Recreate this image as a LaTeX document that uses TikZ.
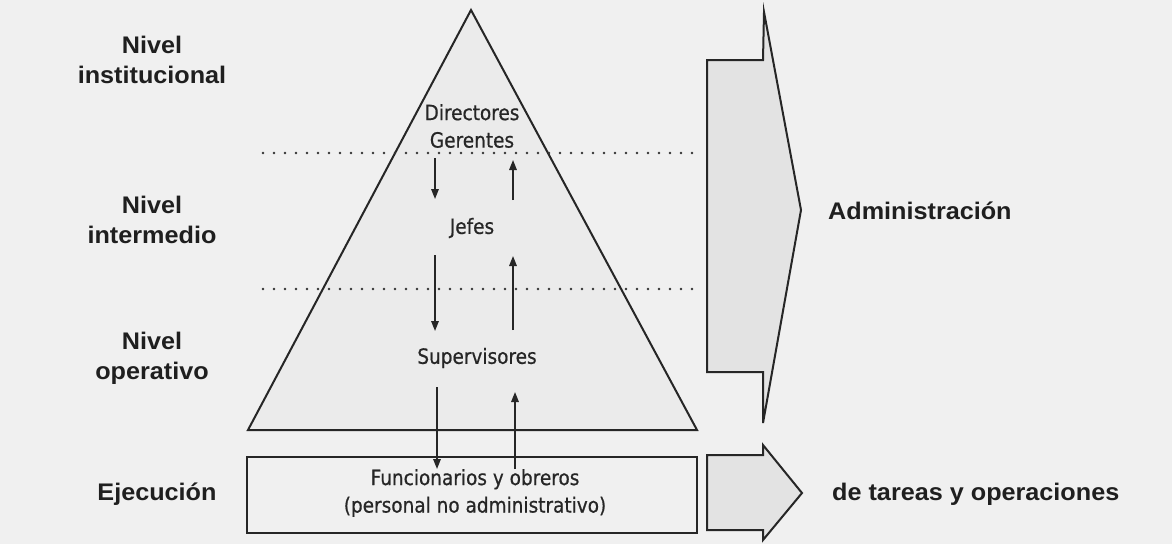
\documentclass[tikz,border=0pt]{standalone}
\usepackage{fontspec}
\setmainfont{Liberation Sans}
\newfontfamily\labelfont[FakeStretch=1.05]{Liberation Sans}
\newfontfamily\innerfont[FakeStretch=0.88,FakeBold=0.6]{DejaVu Sans}
\usetikzlibrary{arrows.meta}

\begin{document}
\begin{tikzpicture}[x=1pt,y=-1pt,
  outline/.style={line width=2pt, draw=black!85, line join=miter},
  level/.style={font=\labelfont\fontsize{24}{30}\selectfont\bfseries, align=center, text=black!88},
  inside/.style={font=\innerfont\fontsize{21}{27.5}\selectfont, align=center, text=black!85},
  flow/.style={line width=1.6pt, draw=black!85, -{Triangle[length=10pt,width=7.5pt]}},
  dotline/.style={line width=2.6pt, draw=black!80, line cap=round, dash pattern=on 0pt off 11pt}]
\fill[black!6] (0,0) rectangle (1172,544);
\useasboundingbox (0,0) rectangle (1172,544);

% pyramid of management levels
\draw[outline, fill=black!8] (471,10) -- (697,430) -- (248,430) -- cycle;

% wide arrow: administration
\draw[outline, fill=black!11] (707,60) -- (763,60) -- (764,12) -- (801,210)
  -- (763,423) -- (763,372) -- (707,372) -- cycle;

% execution box and arrow
\draw[outline] (247,457) rectangle (697,533);
\draw[outline, fill=black!11] (707,455) -- (763,455) -- (763,445) -- (802,493)
  -- (763,540) -- (763,530) -- (707,530) -- cycle;

% level separators
\draw[dotline] (263,153) -- (700,153);
\draw[dotline] (263,289) -- (700,289);

% level names
\node[level] (inst) at (152,60) {Nivel\\institucional};
\node[level] (inter) at (152,220) {Nivel\\intermedio};
\node[level] (oper) at (152,358) {Nivel\\operativo};
\node[level] (ejec) at (157,494) {Ejecución};
\node[level, anchor=west, inner sep=0pt] (admin) at (828,211) {Administración};
\node[level, anchor=west, inner sep=0pt] (tareas) at (832,494) {de tareas y operaciones};

% positions inside the pyramid
\node[inside] (dir) at (472,126) {Directores\\Gerentes};
\node[inside] (jefes) at (472,228) {Jefes};
\node[inside] (sup) at (477,358) {Supervisores};
\node[inside] (func) at (475,493) {Funcionarios y obreros\\(personal no administrativo)};

% communication flows between levels
\coordinate (d1a) at (435,158); \coordinate (d1b) at (435,199);
\coordinate (u1a) at (513,200); \coordinate (u1b) at (513,160);
\coordinate (d2a) at (435,255); \coordinate (d2b) at (435,331);
\coordinate (u2a) at (513,330); \coordinate (u2b) at (513,256);
\coordinate (d3a) at (437,387); \coordinate (d3b) at (437,469);
\coordinate (u3a) at (515,469); \coordinate (u3b) at (515,392);
\draw[flow] (d1a) -- (d1b);
\draw[flow] (u1a) -- (u1b);
\draw[flow] (d2a) -- (d2b);
\draw[flow] (u2a) -- (u2b);
\draw[flow] (d3a) -- (d3b);
\draw[flow] (u3a) -- (u3b);
\end{tikzpicture}
\end{document}
